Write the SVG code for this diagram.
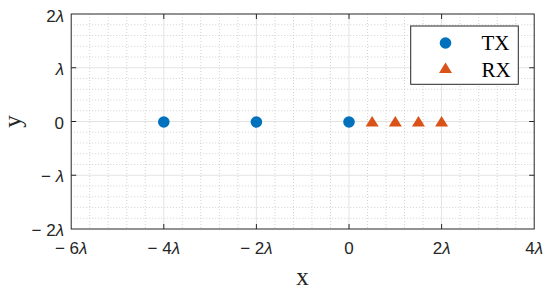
<svg xmlns="http://www.w3.org/2000/svg" width="550" height="293" viewBox="0 0 550 293">
<defs>
<style>
.minor{fill:none;stroke:#c8c8c8;stroke-width:0.8;stroke-dasharray:1 2}
.major{fill:none;stroke:#e3e3e3;stroke-width:1}
.axis{fill:none;stroke:#262626;stroke-width:1}
.tick{font-family:"Liberation Sans",Arial,sans-serif;font-size:17px;fill:#262626}
.lam{font-style:italic}
.lbl{font-family:"Liberation Serif","Times New Roman",serif;font-size:25px;fill:#262626}
.leg{font-family:"Liberation Serif","Times New Roman",serif;font-size:21px;fill:#000}
.tx{fill:#0072BD}
.rx{fill:#D95319}
</style>
<circle id="txm" r="5.8" class="tx"/>
<polygon id="rxm" points="0,-6 -6.5,4.5 6.5,4.5" class="rx"/>
</defs>
<rect width="550" height="293" fill="#fff"/>
<g id="grid-minor">
<path class="minor" d="M89.72 14V229M108.24 14V229M126.76 14V229M145.28 14V229M182.32 14V229M200.84 14V229M219.36 14V229M237.88 14V229M274.92 14V229M293.44 14V229M311.96 14V229M330.48 14V229M367.52 14V229M386.04 14V229M404.56 14V229M423.08 14V229M460.12 14V229M478.64 14V229M497.16 14V229M515.68 14V229"/>
<path class="minor" d="M71.2 24.75H534.2M71.2 35.5H534.2M71.2 46.25H534.2M71.2 57H534.2M71.2 78.5H534.2M71.2 89.25H534.2M71.2 100H534.2M71.2 110.75H534.2M71.2 132.25H534.2M71.2 143H534.2M71.2 153.75H534.2M71.2 164.5H534.2M71.2 186H534.2M71.2 196.75H534.2M71.2 207.5H534.2M71.2 218.25H534.2"/>
</g>
<g id="grid-major">
<path class="major" d="M163.8 14V229M256.4 14V229M349 14V229M441.6 14V229M71.2 67.75H534.2M71.2 121.5H534.2M71.2 175.25H534.2"/>
</g>
<g id="axes">
<rect class="axis" x="71.2" y="14" width="463" height="215"/>
<path class="axis" d="M163.8 229v-5M256.4 229v-5M349 229v-5M441.6 229v-5M163.8 14v5M256.4 14v5M349 14v5M441.6 14v5M71.2 67.75h5M71.2 121.5h5M71.2 175.25h5M534.2 67.75h-5M534.2 121.5h-5M534.2 175.25h-5"/>
</g>
<g id="xticks" class="tick" text-anchor="middle">
<text x="71.2" y="254">− 6<tspan class="lam">λ</tspan></text>
<text x="163.8" y="254">− 4<tspan class="lam">λ</tspan></text>
<text x="256.4" y="254">− 2<tspan class="lam">λ</tspan></text>
<text x="349" y="254">0</text>
<text x="441.6" y="254">2<tspan class="lam">λ</tspan></text>
<text x="534.2" y="254">4<tspan class="lam">λ</tspan></text>
</g>
<g id="yticks" class="tick" text-anchor="end">
<text x="64" y="21.5">2<tspan class="lam">λ</tspan></text>
<text x="64" y="75"><tspan class="lam">λ</tspan></text>
<text x="64" y="128.5">0</text>
<text x="64" y="182"><tspan>− </tspan><tspan class="lam">λ</tspan></text>
<text x="64" y="236">− 2<tspan class="lam">λ</tspan></text>
</g>
<g id="xlabel"><text class="lbl" x="302.5" y="285" text-anchor="middle">x</text></g>
<g id="ylabel"><text class="lbl" transform="translate(21,121.5) rotate(-90)" text-anchor="middle">y</text></g>
<g id="tx-nodes">
<g id="tx1"><use href="#txm" x="163.8" y="122"/></g>
<g id="tx2"><use href="#txm" x="256.4" y="122"/></g>
<g id="tx3"><use href="#txm" x="349" y="122"/></g>
</g>
<g id="rx-nodes">
<g id="rx1"><use href="#rxm" x="372.15" y="122"/></g>
<g id="rx2"><use href="#rxm" x="395.3" y="122"/></g>
<g id="rx3"><use href="#rxm" x="418.45" y="122"/></g>
<g id="rx4"><use href="#rxm" x="441.6" y="122"/></g>
</g>
<g id="connectors"></g>
<g id="legend">
<rect x="410.7" y="26" width="107.6" height="58.3" fill="#fff" stroke="#262626" stroke-width="1"/>
<use href="#txm" x="445.5" y="43"/>
<use href="#rxm" x="445.5" y="68.5"/>
<text class="leg" x="481.5" y="50">TX</text>
<text class="leg" x="481.5" y="76.5">RX</text>
</g>
</svg>
